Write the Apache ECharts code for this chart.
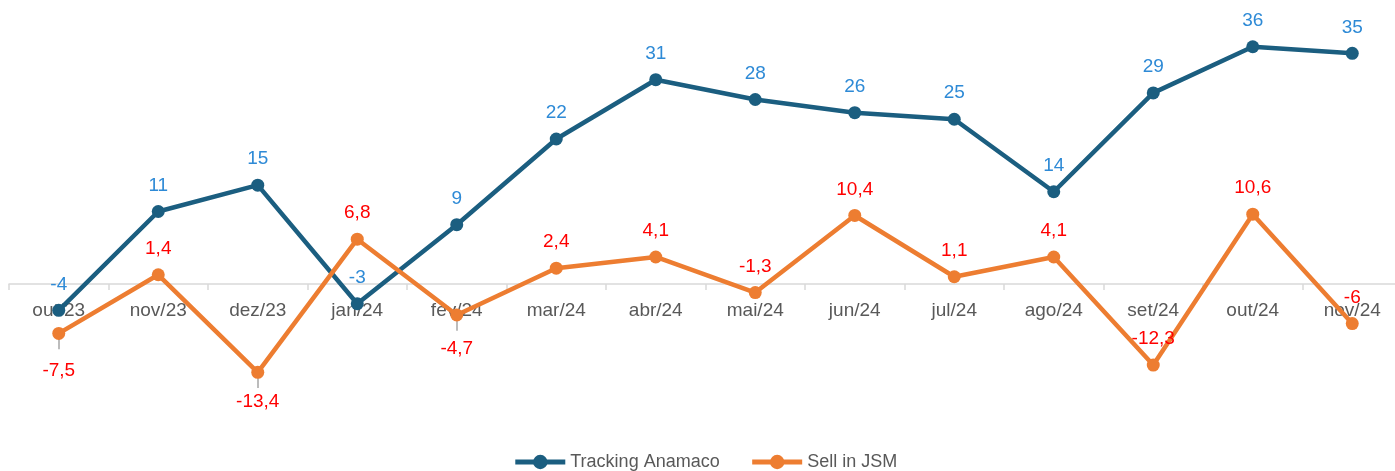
<!DOCTYPE html>
<html>
<head>
<meta charset="utf-8">
<script src="https://cdn.jsdelivr.net/npm/echarts@6/dist/echarts.min.js"></script>
<style>
html,body{margin:0;padding:0;background:#fff;overflow:hidden;}
#chart{width:1410px;height:471px;}
</style>
</head>
<body>
<div id="chart"></div>
<script>
const categories = ['out/23','nov/23','dez/23','jan/24','fev/24','mar/24','abr/24','mai/24','jun/24','jul/24','ago/24','set/24','out/24','nov/24'];
const trackingAnamaco = [-4, 11, 15, -3, 9, 22, 31, 28, 26, 25, 14, 29, 36, 35];
const sellInJSM = [-7.5, 1.4, -13.4, 6.8, -4.7, 2.4, 4.1, -1.3, 10.4, 1.1, 4.1, -12.3, 10.6, -6];
const seriesNames = ['Tracking Anamaco', 'Sell in JSM'];

const FONT = 'Liberation Sans, Arial, sans-serif';
const fmtComma = v => String(v).replace('.', ',');

// label layout: indices whose label sits below the point (with a leader line)
const belowWithLeader = {0: 21, 2: 13, 4: 18};
const leaderLen = 2.4; // in value units

const Y_MIN = -20, Y_MAX = 40;
const GRID_TOP = 20.4, GRID_H = 395.4;
const zeroY = GRID_TOP + GRID_H * Y_MAX / (Y_MAX - Y_MIN);
const GRID_BOTTOM = GRID_TOP + GRID_H;

const chart = echarts.init(document.getElementById('chart'), null, {renderer: 'canvas'});
chart.setOption({
  animation: false,
  backgroundColor: '#ffffff',
  grid: {left: 9, top: GRID_TOP, width: 1393, height: GRID_H, containLabel: false},
  legend: {
    data: seriesNames,
    top: 448,
    left: 'center',
    itemWidth: 50,
    itemHeight: 18,
    itemGap: 30,
    lineStyle: {width: 5},
    textStyle: {color: '#595959', fontSize: 18, fontFamily: FONT}
  },
  xAxis: {
    type: 'category',
    data: categories,
    boundaryGap: true,
    axisLine: {onZero: true, lineStyle: {color: '#d9d9d9', width: 1.5}},
    axisTick: {show: true, length: 6, lineStyle: {color: '#d9d9d9', width: 1.5}},
    axisLabel: {color: '#595959', fontSize: 19, fontFamily: FONT, margin: 17 - (GRID_BOTTOM - zeroY), interval: 0},
    splitLine: {show: false},
    z: 1
  },
  yAxis: {
    type: 'value',
    min: Y_MIN,
    max: Y_MAX,
    show: false,
    splitLine: {show: false}
  },
  series: [
    {
      name: seriesNames[0],
      type: 'line',
      data: trackingAnamaco,
      color: '#1b5e80',
      symbol: 'circle',
      symbolSize: 13,
      lineStyle: {width: 4.5, color: '#1b5e80'},
      itemStyle: {color: '#1b5e80'},
      label: {show: true, position: 'top', distance: 10, color: '#2e8ad6', fontSize: 19, fontFamily: FONT},
      z: 3
    },
    {
      name: seriesNames[1],
      type: 'line',
      data: sellInJSM.map((v, i) => {
        if (belowWithLeader[i] !== undefined) {
          return {value: v, label: {position: 'bottom', distance: belowWithLeader[i]}};
        }
        return v;
      }),
      color: '#ed7d31',
      symbol: 'circle',
      symbolSize: 13,
      lineStyle: {width: 4.5, color: '#ed7d31'},
      itemStyle: {color: '#ed7d31'},
      label: {show: true, position: 'top', distance: 10, color: '#ff0000', fontSize: 19, fontFamily: FONT,
        formatter: p => fmtComma(p.value)},
      markLine: {
        silent: true,
        symbol: 'none',
        label: {show: false},
        lineStyle: {color: '#a6a6a6', width: 1.5, type: 'solid'},
        z: 1,
        data: Object.keys(belowWithLeader).map(k => {
          const i = +k;
          return [{coord: [i, sellInJSM[i]]}, {coord: [i, sellInJSM[i] - leaderLen]}];
        })
      },
      z: 4
    }
  ]
});
</script>
</body>
</html>
